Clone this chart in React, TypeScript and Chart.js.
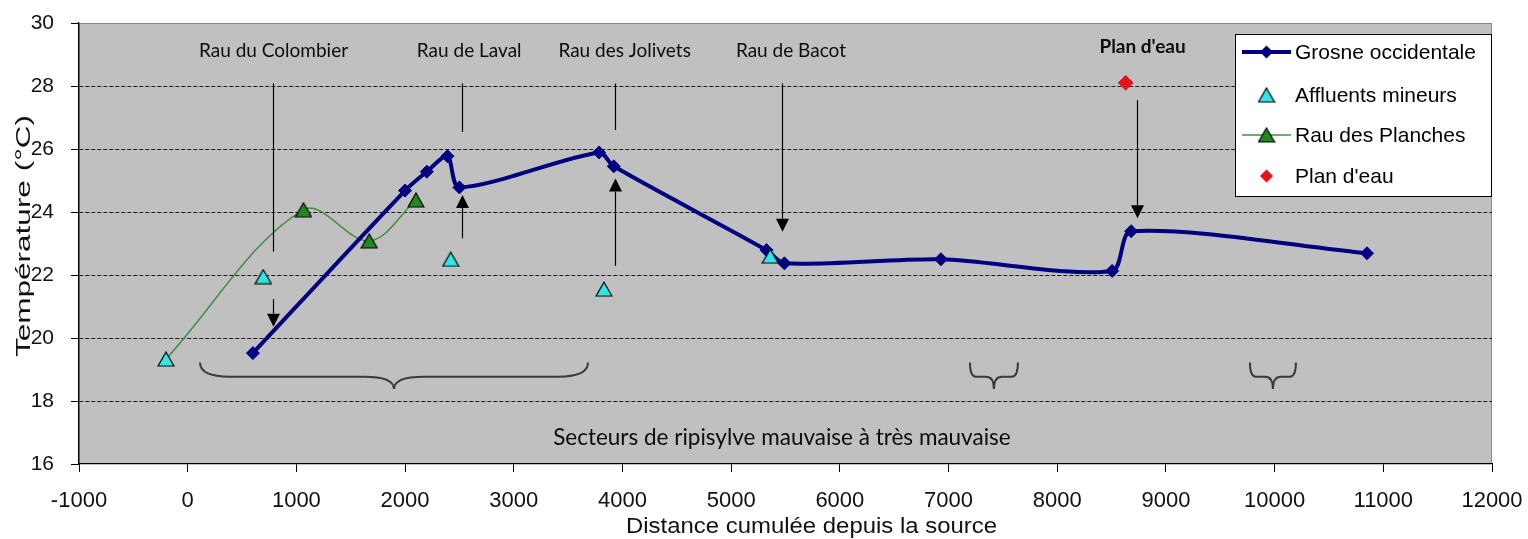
import React, { useEffect, useRef } from 'react';
import { Chart, registerables } from 'chart.js';

Chart.register(...registerables);

// ---------- data ----------
const grosneX = [600, 2000, 2200, 2390, 2500, 3785, 3920, 5325, 5490, 6930, 8505, 8680, 10850];
const grosneY = [19.52, 24.68, 25.28, 25.77, 24.78, 25.89, 25.45, 22.79, 22.37, 22.5, 22.13, 23.39, 22.69];
const affluentsX = [-200, 695, 2420, 3830, 5360];
const affluentsY = [19.33, 21.95, 22.5, 21.55, 22.6];
const planchesX = [-200, 1065, 1670, 2100];
const planchesY = [19.33, 24.07, 23.08, 24.38];
const planEauX = [8630];
const planEauY = [28.1];

const seriesNames = ['Grosne occidentale', 'Affluents mineurs', 'Rau des Planches', "Plan d'eau"];

const xMin = -1000;
const xMax = 12000;
const xStep = 1000;
const yMin = 16;
const yMax = 30;
const yStep = 2;
const xTitle = 'Distance cumulée depuis la source';
const yTitle = 'Température (°C)';

// annotations (data units)
const streamNames = ['Rau du Colombier', 'Rau de Laval', 'Rau des Jolivets', 'Rau de Bacot'];
const streamLabelX = [790, 2590, 4020, 5550];
const streamLabelY = 29.1;
const planEauLabel = "Plan d'eau";
const planEauLabelX = 8785;
const planEauLabelY = 29.23;
const arrowX = [787, 787, 2520, 2520, 3928, 3928, 5470, 8736];
const arrowFrom = [28.08, 21.24, 28.08, 23.16, 28.08, 22.29, 28.08, 27.55];
const arrowTo = [22.74, 20.36, 26.54, 24.54, 26.6, 25.06, 23.37, 23.8];
const arrowHead = [false, true, false, true, false, true, true, true];
const braceFrom = [113, 7197, 9773];
const braceTo = [3683, 7638, 10196];
const braceTop = 19.22;
const braceMid = 18.77;
const braceTip = 18.38;
const sectorLabel = 'Secteurs de ripisylve mauvaise à très mauvaise';
const sectorLabelX = 5467;
const sectorLabelY = 16.83;

const NAVY = '#000080';
const CYAN = '#33e6e6';
const GREEN = '#1f8a1f';
const GREEN_LINE = '#408f40';
const RED = '#e8121a';

function makeTriangle(fill: string) {
  const w = 16;
  const h = 14;
  const c = document.createElement('canvas');
  c.width = w + 2;
  c.height = h + 2;
  const ctx = c.getContext('2d')!;
  ctx.beginPath();
  ctx.moveTo(c.width / 2, 1);
  ctx.lineTo(c.width - 1, c.height - 1);
  ctx.lineTo(1, c.height - 1);
  ctx.closePath();
  ctx.fillStyle = fill;
  ctx.fill();
  ctx.lineWidth = 1.2;
  ctx.strokeStyle = '#000';
  ctx.stroke();
  return c;
}

function pts(xs: number[], ys: number[]) {
  return xs.map((x, i) => ({ x, y: ys[i] }));
}

export default function App() {
  const ref = useRef<HTMLCanvasElement>(null);

  useEffect(() => {
    const canvas = ref.current!;
    const cyanTri = makeTriangle(CYAN);
    const greenTri = makeTriangle(GREEN);

    const fitText = (ctx: CanvasRenderingContext2D, text: string, x: number, y: number, width: number) => {
      const m = ctx.measureText(text).width;
      ctx.save();
      ctx.translate(x, y);
      ctx.scale(width / m, 1);
      ctx.fillText(text, 0, 0);
      ctx.restore();
    };

    const overlay = {
      id: 'overlay',
      beforeDraw(chart: any) {
        const { ctx, chartArea: a, width, height } = chart;
        ctx.save();
        ctx.fillStyle = '#ffffff';
        ctx.fillRect(0, 0, width, height);
        ctx.fillStyle = '#c0c0c0';
        ctx.fillRect(a.left, a.top, a.right - a.left, a.bottom - a.top);
        ctx.strokeStyle = '#8a8a8a';
        ctx.lineWidth = 1;
        ctx.strokeRect(a.left + 0.5, a.top + 0.5, a.right - a.left - 1, a.bottom - a.top - 1);
        ctx.restore();
      },
      afterDatasetsDraw(chart: any) {
        const { ctx } = chart;
        const xs = chart.scales.x;
        const ys = chart.scales.y;
        const px = (v: number) => xs.getPixelForValue(v);
        const py = (v: number) => ys.getPixelForValue(v);
        ctx.save();
        // arrows
        ctx.strokeStyle = '#000';
        ctx.fillStyle = '#000';
        ctx.lineWidth = 1.2;
        const headLen = 13;
        const headHalf = 6.5;
        arrowX.forEach((xv, i) => {
          const x = Math.round(px(xv)) + 0.5;
          const y1 = py(arrowFrom[i]);
          const y2 = py(arrowTo[i]);
          const dir = Math.sign(y2 - y1);
          const yEnd = arrowHead[i] ? y2 - dir * headLen : y2;
          ctx.beginPath();
          ctx.moveTo(x, y1);
          ctx.lineTo(x, yEnd);
          ctx.stroke();
          if (arrowHead[i]) {
            ctx.beginPath();
            ctx.moveTo(x, y2);
            ctx.lineTo(x - headHalf, yEnd);
            ctx.lineTo(x + headHalf, yEnd);
            ctx.closePath();
            ctx.fill();
          }
        });
        // braces
        ctx.strokeStyle = '#3a3a3a';
        ctx.lineWidth = 2;
        braceFrom.forEach((bv, i) => {
          const x1 = px(bv);
          const x2 = px(braceTo[i]);
          const xc = (x1 + x2) / 2;
          const yT = py(braceTop);
          const yM = py(braceMid);
          const yP = py(braceTip);
          const big = x2 - x1 > 150;
          const rEnd = big ? 30 : 6;
          const rMid = big ? 30 : 8;
          for (const s of [1, -1]) {
            const xe = s === 1 ? x1 : x2;
            ctx.beginPath();
            ctx.moveTo(xe, yT);
            ctx.quadraticCurveTo(xe, yM, xe + s * rEnd, yM);
            ctx.lineTo(xc - s * rMid, yM);
            ctx.quadraticCurveTo(xc, yM, xc, yP);
            ctx.stroke();
          }
        });
        // annotation texts
        ctx.fillStyle = '#0c0c0c';
        ctx.textAlign = 'center';
        ctx.textBaseline = 'middle';
        ctx.font = '19px Lato';
        streamNames.forEach((t, i) => {
          ctx.fillText(t, px(streamLabelX[i]), py(streamLabelY));
        });
        ctx.font = 'bold 19px Lato';
        ctx.fillText(planEauLabel, px(planEauLabelX), py(planEauLabelY));
        ctx.font = '22.5px Lato';
        ctx.fillText(sectorLabel, px(sectorLabelX), py(sectorLabelY));
        ctx.restore();
      },
      afterDraw(chart: any) {
        const { ctx, chartArea: a } = chart;
        ctx.save();
        // legend
        const lx = a.right - 257;
        const ly = a.top + 11;
        const lw = 256;
        const lh = 162;
        ctx.fillStyle = '#fff';
        ctx.fillRect(lx, ly, lw, lh);
        ctx.strokeStyle = '#000';
        ctx.lineWidth = 1;
        ctx.strokeRect(lx + 0.5, ly + 0.5, lw, lh);
        const rows = [18, 61, 101, 142];
        const sx1 = lx + 7;
        const sx2 = lx + 56;
        const sxc = (sx1 + sx2) / 2;
        ctx.font = '21px "Liberation Sans"';
        ctx.textAlign = 'left';
        ctx.textBaseline = 'middle';
        rows.forEach((r, i) => {
          const y = ly + r;
          if (i === 0) {
            ctx.strokeStyle = NAVY;
            ctx.lineWidth = 4;
            ctx.beginPath();
            ctx.moveTo(sx1, y);
            ctx.lineTo(sx2, y);
            ctx.stroke();
            ctx.fillStyle = NAVY;
            ctx.beginPath();
            ctx.moveTo(sxc - 6.5, y);
            ctx.lineTo(sxc, y - 6.5);
            ctx.lineTo(sxc + 6.5, y);
            ctx.lineTo(sxc, y + 6.5);
            ctx.closePath();
            ctx.fill();
          } else if (i === 1) {
            ctx.drawImage(cyanTri, sxc - cyanTri.width / 2, y - cyanTri.height / 2);
          } else if (i === 2) {
            ctx.strokeStyle = GREEN_LINE;
            ctx.lineWidth = 1.5;
            ctx.beginPath();
            ctx.moveTo(sx1, y);
            ctx.lineTo(sx2, y);
            ctx.stroke();
            ctx.drawImage(greenTri, sxc - greenTri.width / 2, y - greenTri.height / 2);
          } else {
            ctx.fillStyle = RED;
            ctx.beginPath();
            ctx.moveTo(sxc - 6.5, y);
            ctx.lineTo(sxc, y - 6.5);
            ctx.lineTo(sxc + 6.5, y);
            ctx.lineTo(sxc, y + 6.5);
            ctx.closePath();
            ctx.fill();
          }
          ctx.fillStyle = '#000';
          ctx.fillText(seriesNames[i], lx + 60, y + 1);
        });
        // axis titles
        ctx.fillStyle = '#111';
        ctx.textBaseline = 'middle';
        ctx.font = '22px "Liberation Sans"';
        ctx.textAlign = 'left';
        const xtW = 371;
        const xtx = 626;
        {
          const m = ctx.measureText(xTitle).width;
          ctx.save();
          ctx.translate(xtx, 527);
          ctx.scale(xtW / m, 1);
          ctx.fillText(xTitle, 0, 0);
          ctx.restore();
        }
        ctx.save();
        ctx.translate(24, 236);
        ctx.rotate(-Math.PI / 2);
        ctx.textAlign = 'center';
        ctx.font = '21px "Liberation Sans"';
        fitText(ctx, yTitle, 0, 0, 242);
        ctx.restore();
        ctx.restore();
      },
    };

    const chart = new Chart(canvas, {
      type: 'scatter',
      data: {
        datasets: [
          {
            label: seriesNames[1],
            data: pts(affluentsX, affluentsY),
            showLine: false,
            pointStyle: cyanTri as any,
            pointRadius: 7,
            backgroundColor: CYAN,
            borderColor: '#000',
          },
          {
            label: seriesNames[0],
            data: pts(grosneX, grosneY),
            showLine: true,
            borderColor: NAVY,
            borderWidth: 4,
            tension: 0.28,
            pointStyle: 'rectRot',
            pointRadius: 6.5,
            pointBackgroundColor: NAVY,
            pointBorderColor: NAVY,
            pointBorderWidth: 1,
          },
          {
            label: seriesNames[2],
            data: pts(planchesX, planchesY),
            showLine: true,
            borderColor: GREEN_LINE,
            borderWidth: 1.5,
            tension: 0.35,
            pointStyle: greenTri as any,
            pointRadius: [0, 7, 7, 7],
            backgroundColor: GREEN,
          },
          {
            label: seriesNames[3],
            data: pts(planEauX, planEauY),
            showLine: false,
            pointStyle: 'rectRot',
            pointRadius: 7.5,
            pointBackgroundColor: RED,
            pointBorderColor: '#b00000',
            pointBorderWidth: 0.5,
          },
        ],
      },
      options: {
        responsive: false,
        animation: false,
        events: [],
        layout: { padding: { left: 0, top: 23, right: 36, bottom: 0 } },
        plugins: { legend: { display: false }, tooltip: { enabled: false }, title: { display: false } },
        scales: {
          x: {
            type: 'linear',
            min: xMin,
            max: xMax,
            afterFit: (s: any) => {
              s.height = 75;
              s.paddingLeft = 0;
              s.paddingRight = 0;
            },
            ticks: {
              stepSize: xStep,
              autoSkip: false,
              maxRotation: 0,
              padding: 16,
              color: '#111',
              font: { family: '"Liberation Sans"', size: 22 },
              callback: (v: any) => String(v),
            },
            grid: { display: true, drawOnChartArea: false, drawTicks: true, tickLength: 8, tickColor: '#000', tickWidth: 1 },
            border: { display: true, color: '#000', width: 1.3 },
          },
          y: {
            type: 'linear',
            min: yMin,
            max: yMax,
            afterFit: (s: any) => {
              s.width = 79;
              s.paddingTop = 0;
              s.paddingBottom = 0;
            },
            ticks: {
              stepSize: yStep,
              padding: 17,
              color: '#111',
              font: { family: '"Liberation Sans"', size: 21 },
              callback: (v: any) => String(v),
            },
            grid: {
              display: true,
              drawOnChartArea: true,
              drawTicks: true,
              tickLength: 8,
              tickColor: '#000',
              tickWidth: 1,
              lineWidth: 1,
              color: (c: any) => (c.tick && (c.tick.value === yMin || c.tick.value === yMax) ? 'rgba(0,0,0,0)' : '#1c1c1c'),
            },
            border: { display: true, color: '#000', width: 1.3, dash: [4, 2] },
          },
        },
      },
      plugins: [overlay],
    } as any);

    return () => chart.destroy();
  }, []);

  return (
    <div style={{ position: 'absolute', left: 0, top: 0, width: 1528, height: 539 }}>
      <canvas ref={ref} width={1528} height={539} style={{ display: 'block' }} />
    </div>
  );
}
